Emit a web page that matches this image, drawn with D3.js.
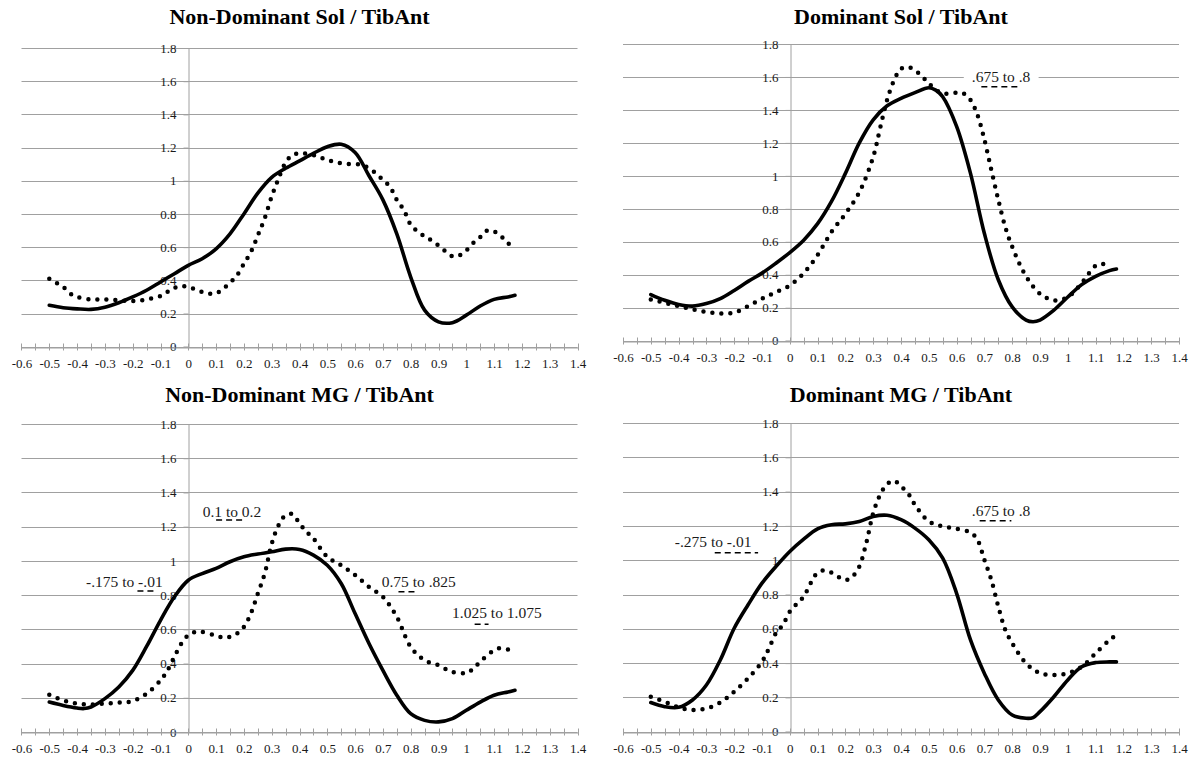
<!DOCTYPE html>
<html>
<head>
<meta charset="utf-8">
<script src="https://cdn.jsdelivr.net/npm/d3@7"></script>
<style>
  html, body { margin: 0; padding: 0; background: #fff; }
  svg { display: block; }
  text { font-family: "Liberation Serif", "Times New Roman", serif; }
  .axis text { font-family: "Liberation Serif", "Times New Roman", serif !important; font-size: 13px !important; fill: #1a1a1a; }
</style>
</head>
<body>
<svg id="chart" width="1203" height="758"></svg>
<script>
// ---------------- DATA ----------------
const titles = [
  "Non-Dominant Sol / TibAnt",
  "Dominant Sol / TibAnt",
  "Non-Dominant MG / TibAnt",
  "Dominant MG / TibAnt"
];
const xTickValues = [-0.6,-0.5,-0.4,-0.3,-0.2,-0.1,0,0.1,0.2,0.3,0.4,0.5,0.6,0.7,0.8,0.9,1,1.1,1.2,1.3,1.4];
const xTickLabels = ["-0.6","-0.5","-0.4","-0.3","-0.2","-0.1","0","0.1","0.2","0.3","0.4","0.5","0.6","0.7","0.8","0.9","1","1.1","1.2","1.3","1.4"];
const yTickValues = [0,0.2,0.4,0.6,0.8,1,1.2,1.4,1.6,1.8];
const yTickLabels = ["0","0.2","0.4","0.6","0.8","1","1.2","1.4","1.6","1.8"];

// Panel 1: Non-Dominant Sol / TibAnt
const ndSolSolid = [[-0.5,0.25],[-0.45,0.235],[-0.4,0.228],[-0.35,0.225],[-0.3,0.238],[-0.25,0.265],[-0.2,0.30],[-0.15,0.34],[-0.1,0.39],[-0.05,0.44],[0,0.49],[0.05,0.53],[0.1,0.59],[0.15,0.68],[0.2,0.80],[0.25,0.925],[0.3,1.02],[0.35,1.075],[0.4,1.12],[0.45,1.165],[0.5,1.205],[0.55,1.22],[0.6,1.17],[0.65,1.03],[0.7,0.885],[0.75,0.68],[0.8,0.42],[0.85,0.22],[0.9,0.15],[0.95,0.145],[1.0,0.19],[1.05,0.245],[1.1,0.285],[1.15,0.30],[1.175,0.31]];
const ndSolDotted = [[-0.5,0.41],[-0.475,0.385],[-0.45,0.36],[-0.425,0.32],[-0.4,0.30],[-0.35,0.285],[-0.3,0.285],[-0.25,0.28],[-0.2,0.275],[-0.15,0.285],[-0.1,0.305],[-0.075,0.33],[-0.05,0.355],[-0.025,0.365],[0,0.36],[0.025,0.345],[0.05,0.33],[0.075,0.32],[0.1,0.322],[0.125,0.35],[0.15,0.385],[0.175,0.43],[0.2,0.50],[0.225,0.57],[0.25,0.67],[0.275,0.775],[0.3,0.905],[0.325,1.015],[0.35,1.11],[0.375,1.155],[0.4,1.165],[0.45,1.155],[0.5,1.125],[0.55,1.105],[0.6,1.10],[0.625,1.095],[0.65,1.075],[0.675,1.045],[0.7,1.005],[0.725,0.965],[0.75,0.885],[0.775,0.825],[0.8,0.735],[0.825,0.695],[0.85,0.665],[0.875,0.64],[0.9,0.61],[0.925,0.575],[0.95,0.545],[0.975,0.55],[1.0,0.58],[1.025,0.625],[1.05,0.66],[1.075,0.70],[1.1,0.695],[1.125,0.665],[1.15,0.625],[1.175,0.58]];
const ndSolNotes = [];

// Panel 2: Dominant Sol / TibAnt
const dSolSolid = [[-0.5,0.28],[-0.45,0.245],[-0.4,0.22],[-0.35,0.21],[-0.3,0.225],[-0.25,0.255],[-0.2,0.305],[-0.15,0.36],[-0.1,0.41],[-0.05,0.47],[0,0.535],[0.05,0.61],[0.1,0.71],[0.15,0.845],[0.2,1.015],[0.25,1.20],[0.3,1.34],[0.35,1.425],[0.4,1.47],[0.45,1.505],[0.5,1.535],[0.525,1.52],[0.55,1.48],[0.6,1.30],[0.65,1.015],[0.7,0.65],[0.75,0.37],[0.8,0.205],[0.85,0.125],[0.875,0.115],[0.9,0.125],[0.95,0.185],[1.0,0.265],[1.05,0.34],[1.1,0.39],[1.15,0.425],[1.175,0.435]];
const dSolDotted = [[-0.5,0.25],[-0.45,0.23],[-0.4,0.21],[-0.35,0.19],[-0.3,0.175],[-0.25,0.165],[-0.2,0.17],[-0.15,0.21],[-0.1,0.255],[-0.05,0.295],[0,0.335],[0.05,0.41],[0.1,0.52],[0.15,0.66],[0.2,0.77],[0.25,0.90],[0.3,1.115],[0.325,1.29],[0.35,1.46],[0.375,1.58],[0.4,1.65],[0.425,1.66],[0.45,1.64],[0.475,1.605],[0.5,1.56],[0.55,1.50],[0.6,1.505],[0.625,1.50],[0.65,1.46],[0.675,1.37],[0.7,1.22],[0.725,1.035],[0.75,0.855],[0.775,0.69],[0.8,0.57],[0.85,0.39],[0.9,0.285],[0.95,0.245],[1.0,0.265],[1.05,0.35],[1.1,0.455],[1.125,0.465],[1.15,0.46]];
const dSolNotes = [
  { text: ".675 to .8", x: 0.76, y: 1.6, d0: 0.689, d1: 0.8325, dy: 1.54 }
];

// Panel 3: Non-Dominant MG / TibAnt
const ndMgSolid = [[-0.5,0.175],[-0.45,0.155],[-0.4,0.14],[-0.375,0.137],[-0.35,0.146],[-0.3,0.195],[-0.25,0.263],[-0.2,0.36],[-0.15,0.50],[-0.1,0.653],[-0.05,0.79],[0,0.887],[0.05,0.926],[0.1,0.956],[0.15,0.995],[0.2,1.024],[0.25,1.04],[0.3,1.053],[0.35,1.069],[0.4,1.067],[0.45,1.034],[0.5,0.975],[0.55,0.868],[0.6,0.692],[0.65,0.517],[0.7,0.36],[0.75,0.215],[0.8,0.107],[0.85,0.068],[0.9,0.059],[0.95,0.078],[1.0,0.127],[1.05,0.175],[1.1,0.215],[1.15,0.234],[1.175,0.244]];
const ndMgDotted = [[-0.5,0.218],[-0.45,0.185],[-0.4,0.166],[-0.35,0.16],[-0.3,0.166],[-0.25,0.172],[-0.2,0.181],[-0.15,0.224],[-0.1,0.302],[-0.075,0.36],[-0.05,0.44],[-0.025,0.517],[0,0.566],[0.025,0.585],[0.05,0.585],[0.1,0.562],[0.125,0.552],[0.15,0.556],[0.175,0.575],[0.2,0.614],[0.225,0.692],[0.25,0.809],[0.275,0.926],[0.3,1.10],[0.325,1.21],[0.35,1.267],[0.375,1.273],[0.4,1.219],[0.425,1.17],[0.45,1.131],[0.5,1.024],[0.55,0.975],[0.6,0.917],[0.65,0.848],[0.7,0.79],[0.75,0.673],[0.8,0.497],[0.85,0.419],[0.9,0.39],[0.95,0.351],[1.0,0.345],[1.025,0.37],[1.05,0.41],[1.1,0.478],[1.125,0.491],[1.15,0.482]];
const ndMgNotes = [
  { text: "0.1 to 0.2", x: 0.157, y: 1.286, d0: 0.1, d1: 0.2, dy: 1.239 },
  { text: "-.175 to -.01", x: -0.23, y: 0.877, d0: -0.183, d1: -0.115, dy: 0.824 },
  { text: "0.75 to .825", x: 0.829, y: 0.878, d0: 0.756, d1: 0.823, dy: 0.82 },
  { text: "1.025 to 1.075", x: 1.11, y: 0.70, d0: 1.03, d1: 1.08, dy: 0.63 }
];

// Panel 4: Dominant MG / TibAnt
const dMgSolid = [[-0.5,0.17],[-0.45,0.146],[-0.4,0.142],[-0.35,0.185],[-0.3,0.272],[-0.25,0.418],[-0.2,0.603],[-0.15,0.74],[-0.1,0.866],[-0.05,0.963],[0,1.051],[0.05,1.123],[0.1,1.183],[0.15,1.207],[0.2,1.212],[0.25,1.226],[0.3,1.255],[0.35,1.262],[0.4,1.236],[0.45,1.187],[0.5,1.119],[0.55,1.012],[0.6,0.807],[0.65,0.535],[0.7,0.34],[0.75,0.185],[0.8,0.097],[0.85,0.078],[0.875,0.082],[0.9,0.117],[0.95,0.204],[1.0,0.302],[1.05,0.379],[1.1,0.403],[1.15,0.407],[1.175,0.407]];
const dMgDotted = [[-0.5,0.204],[-0.45,0.175],[-0.4,0.142],[-0.35,0.126],[-0.3,0.136],[-0.25,0.17],[-0.2,0.234],[-0.15,0.311],[-0.1,0.409],[-0.075,0.486],[-0.05,0.574],[-0.025,0.623],[0,0.70],[0.025,0.745],[0.05,0.788],[0.075,0.866],[0.1,0.928],[0.125,0.94],[0.15,0.928],[0.2,0.885],[0.225,0.905],[0.25,0.963],[0.275,1.10],[0.3,1.275],[0.325,1.382],[0.35,1.444],[0.375,1.463],[0.4,1.43],[0.425,1.391],[0.45,1.323],[0.5,1.226],[0.55,1.197],[0.6,1.183],[0.65,1.162],[0.675,1.119],[0.7,1.002],[0.725,0.885],[0.75,0.73],[0.775,0.594],[0.8,0.516],[0.85,0.399],[0.9,0.341],[0.95,0.331],[1.0,0.341],[1.05,0.379],[1.1,0.457],[1.15,0.535],[1.175,0.564]];
const dMgNotes = [
  { text: "-.275 to -.01", x: -0.276, y: 1.108, d0: -0.27, d1: -0.114, dy: 1.044 },
  { text: ".675 to .8", x: 0.76, y: 1.29, d0: 0.683, d1: 0.797, dy: 1.23 }
];

// ---------------- LAYOUT ----------------
const panels = [
  { title: titles[0], solid: ndSolSolid, dotted: ndSolDotted, notes: ndSolNotes, xr: [21.5, 577.5], yr: [346.7, 48], titleY: 24 },
  { title: titles[1], solid: dSolSolid,  dotted: dSolDotted,  notes: dSolNotes,  xr: [623, 1179],   yr: [340.7, 44], titleY: 24 },
  { title: titles[2], solid: ndMgSolid,  dotted: ndMgDotted,  notes: ndMgNotes,  xr: [21.5, 577.5], yr: [732, 424],  titleY: 402 },
  { title: titles[3], solid: dMgSolid,   dotted: dMgDotted,   notes: dMgNotes,   xr: [623, 1179],   yr: [731.7, 423], titleY: 402 }
];

const svg = d3.select("#chart");
svg.append("rect").attr("width", 1203).attr("height", 758).attr("fill", "#fff");

const gridColor = "#a0a0a0";
const textColor = "#1a1a1a";
const serif = "Liberation Serif, Times New Roman, serif";

panels.forEach(p => {
  const x = d3.scaleLinear().domain([-0.6, 1.4]).range(p.xr);
  const y = d3.scaleLinear().domain([0, 1.8]).range(p.yr);
  const g = svg.append("g");

  // title
  g.append("text")
    .attr("x", (p.xr[0] + p.xr[1]) / 2)
    .attr("y", p.titleY)
    .attr("text-anchor", "middle")
    .style("font-size", "22px")
    .style("font-weight", "bold")
    .style("font-family", serif)
    .attr("fill", "#000")
    .text(p.title);

  // horizontal gridlines
  g.selectAll(".grid").data(yTickValues).join("line")
    .attr("x1", x(-0.6)).attr("x2", x(1.4))
    .attr("y1", d => Math.round(y(d)) + 0.5).attr("y2", d => Math.round(y(d)) + 0.5)
    .attr("stroke", gridColor).attr("stroke-width", 1);

  // y axis (at x = 0)
  const yAxis = d3.axisLeft(y).tickValues(yTickValues)
    .tickFormat((d, i) => yTickLabels[i]).tickSize(5).tickPadding(7);
  const ya = g.append("g").attr("class", "axis")
    .attr("transform", `translate(${Math.round(x(0)) + 0.5},0)`).call(yAxis)
    .attr("font-family", serif).attr("font-size", 13);
  ya.select(".domain").attr("stroke", gridColor);
  ya.selectAll(".tick line").attr("stroke", gridColor);
  ya.selectAll(".tick text").style("font-size", "13px").style("font-family", serif).attr("fill", textColor);

  // x axis (at y = 0)
  const xAxis = d3.axisBottom(x).tickValues(xTickValues)
    .tickFormat((d, i) => xTickLabels[i]).tickSize(0).tickPadding(11);
  const xa = g.append("g").attr("class", "axis")
    .attr("transform", `translate(0,${Math.round(y(0)) + 0.5})`).call(xAxis)
    .attr("font-family", serif).attr("font-size", 13);
  xa.select(".domain").attr("stroke", gridColor);
  xa.selectAll(".tick text").style("font-size", "13px").style("font-family", serif).attr("fill", textColor);
  // tick marks every 0.05
  const minor = d3.range(-12, 29).map(k => k * 0.05);
  xa.selectAll(".mt").data(minor).join("line")
    .attr("x1", d => Math.round(x(d)) + 0.5).attr("x2", d => Math.round(x(d)) + 0.5)
    .attr("y1", -4).attr("y2", 3)
    .attr("stroke", gridColor).attr("stroke-width", 1);

  const line = d3.line()
    .x(d => x(d[0])).y(d => y(d[1]))
    .curve(d3.curveCatmullRom.alpha(0.5));

  // dotted series
  g.append("path").datum(p.dotted)
    .attr("d", line).attr("fill", "none")
    .attr("stroke", "#000").attr("stroke-width", 4.5)
    .attr("stroke-linecap", "round").attr("stroke-dasharray", "0,9");

  // solid series
  g.append("path").datum(p.solid)
    .attr("d", line).attr("fill", "none")
    .attr("stroke", "#000").attr("stroke-width", 3.6)
    .attr("stroke-linejoin", "round").attr("stroke-linecap", "round");

  // annotations
  p.notes.forEach(n => {
    const t = g.append("text")
      .attr("x", x(n.x)).attr("y", y(n.y))
      .attr("dy", "0.35em")
      .attr("text-anchor", "middle")
      .style("font-size", "15.5px")
      .style("font-family", serif)
      .attr("fill", textColor)
      .text(n.text);
    const bb = t.node().getBBox();
    g.insert("rect", () => t.node())
      .attr("x", bb.x - 8).attr("y", bb.y + 1)
      .attr("width", bb.width + 16).attr("height", bb.height - 2)
      .attr("fill", "#fff");
    g.append("line")
      .attr("x1", x(n.d0)).attr("x2", x(n.d1))
      .attr("y1", y(n.dy)).attr("y2", y(n.dy))
      .attr("stroke", "#000").attr("stroke-width", 1.5)
      .attr("stroke-dasharray", "6,4");
  });
});
</script>
</body>
</html>
